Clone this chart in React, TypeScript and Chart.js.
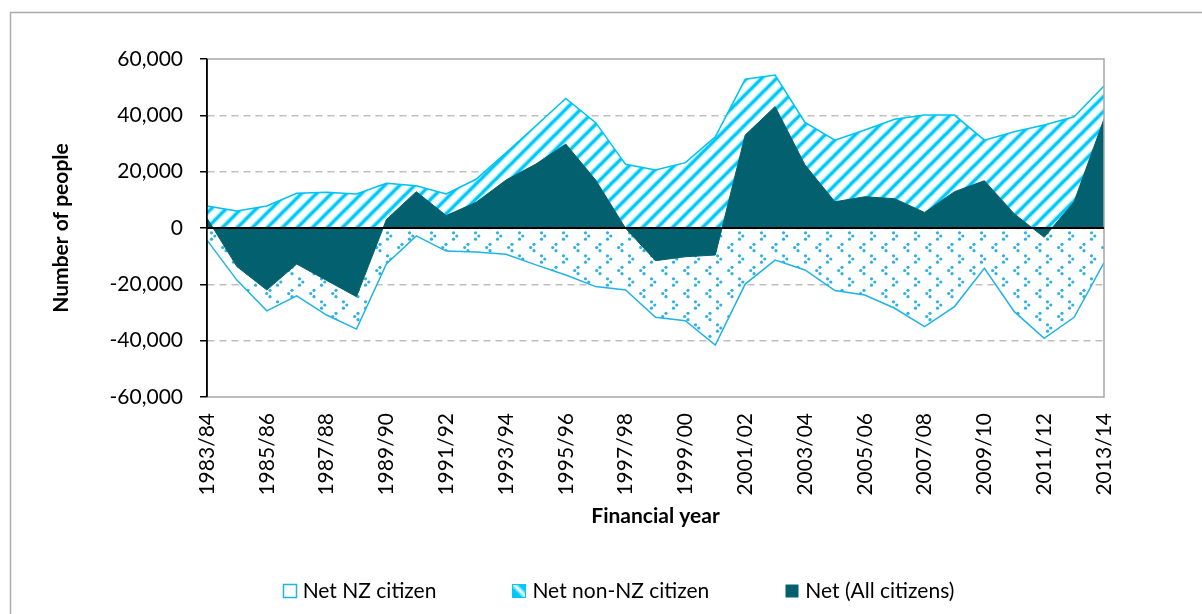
import React, { useEffect, useRef } from "react";
import { Chart, registerables } from "chart.js";

Chart.register(...registerables);

const FONT = "Lato";

const years = [
  "1983/84", "1984/85", "1985/86", "1986/87", "1987/88", "1988/89", "1989/90", "1990/91",
  "1991/92", "1992/93", "1993/94", "1994/95", "1995/96", "1996/97", "1997/98", "1998/99",
  "1999/00", "2000/01", "2001/02", "2002/03", "2003/04", "2004/05", "2005/06", "2006/07",
  "2007/08", "2008/09", "2009/10", "2010/11", "2011/12", "2012/13", "2013/14",
];

const netNZCitizen = [
  -4300, -18500, -29400, -24100, -30900, -35900, -12800, -2800, -8200, -8500,
  -9300, -13100, -16700, -20800, -22000, -31700, -32900, -41600, -19900, -11400,
  -14900, -22200, -23800, -28500, -35000, -27900, -14300, -29700, -39200, -31700,
  -12300,
];

const netNonNZCitizen = [
  7800, 6000, 7800, 12300, 12700, 12100, 15900, 15000, 12100, 17300,
  26700, 36300, 46000, 37400, 22600, 20600, 23200, 32400, 52800, 54300,
  37500, 31200, 34800, 38600, 40100, 40100, 31200, 34200, 36600, 39500,
  50400,
];

const netAllCitizens = [
  3500, -13700, -22000, -12800, -18600, -24400, 3000, 12900, 4400, 9100,
  17000, 22700, 29800, 17000, -100, -11600, -10200, -9600, 33000, 43100,
  22400, 9300, 11100, 10400, 5500, 12900, 16800, 5000, -3300, 9300,
  38700,
];

const seriesLabels = ["Net NZ citizen", "Net non-NZ citizen", "Net (All citizens)"];

const DARK = "#03616F";
const CYAN = "#00C8F8";
const NZ_LINE = "#1FB3E6";

function makeStripePattern(ctx: CanvasRenderingContext2D): CanvasPattern | string {
  const s = 15;
  const c = document.createElement("canvas");
  c.width = s;
  c.height = s;
  const g = c.getContext("2d");
  if (!g) return CYAN;
  g.fillStyle = "#ffffff";
  g.fillRect(0, 0, s, s);
  g.lineCap = "butt";
  for (const [col, w] of [["#B5F0FF", 5.5], [CYAN, 3]] as [string, number][]) {
    g.strokeStyle = col;
    g.lineWidth = w;
    for (const k of [-s, 0, s]) {
      g.beginPath();
      g.moveTo(k - 2, s + 2);
      g.lineTo(k + s + 2, -2);
      g.stroke();
    }
  }
  return ctx.createPattern(c, "repeat") || CYAN;
}

function makeDotPattern(ctx: CanvasRenderingContext2D): CanvasPattern | string {
  const w = 22;
  const h = 23;
  const c = document.createElement("canvas");
  c.width = w;
  c.height = h;
  const g = c.getContext("2d");
  if (!g) return "#fff";
  g.fillStyle = "#ffffff";
  g.fillRect(0, 0, w, h);
  g.fillStyle = "#2FB0E5";
  const dot = (x: number, y: number) => {
    g.beginPath();
    g.arc(x, y, 1.6, 0, Math.PI * 2);
    g.fill();
  };
  // ">" chevron
  dot(13.5, 2.8);
  dot(16.8, 6);
  dot(13.5, 9.2);
  // "<" chevron
  dot(6, 14.3);
  dot(2.7, 17.5);
  dot(6, 20.7);
  return ctx.createPattern(c, "repeat") || "#fff";
}

const framePlugin = {
  id: "frame",
  beforeDraw(chart: any) {
    const { ctx, width, height } = chart;
    ctx.save();
    ctx.fillStyle = "#ffffff";
    ctx.fillRect(0, 0, width, height);
    ctx.strokeStyle = "#ABABAB";
    ctx.lineWidth = 1.5;
    ctx.beginPath();
    ctx.moveTo(10.5, height + 2);
    ctx.lineTo(10.5, 12.5);
    ctx.lineTo(width + 2, 12.5);
    ctx.stroke();
    ctx.restore();
  },
  afterDatasetsDraw(chart: any) {
    const { ctx, chartArea, scales } = chart;
    const { left, right, top, bottom } = chartArea;
    ctx.save();
    ctx.strokeStyle = "#A6A6A6";
    ctx.lineWidth = 1.5;
    ctx.beginPath();
    ctx.moveTo(left, top);
    ctx.lineTo(right, top);
    ctx.lineTo(right, bottom);
    ctx.lineTo(left, bottom);
    ctx.stroke();
    const y0 = scales.y.getPixelForValue(0);
    ctx.strokeStyle = "#000000";
    ctx.lineWidth = 2;
    ctx.beginPath();
    ctx.moveTo(left, y0);
    ctx.lineTo(right, y0);
    ctx.stroke();
    ctx.lineWidth = 1.5;
    ctx.beginPath();
    ctx.moveTo(left, top);
    ctx.lineTo(left, bottom);
    ctx.stroke();
    ctx.restore();
  },
  afterDraw(chart: any) {
    const { ctx } = chart;
    const ds = chart.data.datasets;
    ctx.save();
    ctx.font = `21px ${FONT}`;
    ctx.textBaseline = "middle";
    ctx.textAlign = "left";
    const box = 13;
    const gapText = 7;
    const gapItem = 76;
    const widths = ds.map((d: any) => ctx.measureText(d.label).width);
    const total =
      widths.reduce((s: number, w: number) => s + box + gapText + w, 0) + gapItem * (ds.length - 1);
    let x = 618.5 - total / 2;
    const yc = 591;
    ds.forEach((d: any, i: number) => {
      const bx = Math.round(x) + 0.5;
      const by = yc - box / 2;
      if (i === 0) {
        ctx.fillStyle = "#ffffff";
        ctx.fillRect(bx, by, box, box);
        ctx.strokeStyle = NZ_LINE;
        ctx.lineWidth = 1.5;
        ctx.strokeRect(bx, by, box, box);
      } else if (i === 1) {
        const gr = ctx.createLinearGradient(bx, by + box, bx + box, by);
        gr.addColorStop(0, CYAN);
        gr.addColorStop(0.35, CYAN);
        gr.addColorStop(0.55, "#ffffff");
        gr.addColorStop(0.75, CYAN);
        gr.addColorStop(1, CYAN);
        ctx.fillStyle = gr;
        ctx.fillRect(bx, by, box, box);
        ctx.strokeStyle = CYAN;
        ctx.lineWidth = 1;
        ctx.strokeRect(bx, by, box, box);
      } else {
        ctx.fillStyle = DARK;
        ctx.fillRect(bx, by, box, box);
      }
      ctx.fillStyle = "#000000";
      ctx.fillText(d.label, x + box + gapText, yc);
      x += box + gapText + widths[i] + gapItem;
    });
    ctx.restore();
  },
};

export default function App() {
  const canvasRef = useRef<HTMLCanvasElement | null>(null);

  useEffect(() => {
    const canvas = canvasRef.current;
    if (!canvas) return;
    const ctx = canvas.getContext("2d");
    if (!ctx) return;
    const stripes = makeStripePattern(ctx);
    const dots = makeDotPattern(ctx);

    const chart = new Chart(canvas, {
      type: "line",
      data: {
        labels: years,
        datasets: [
          {
            label: seriesLabels[0],
            data: netNZCitizen,
            fill: "origin",
            backgroundColor: dots as any,
            borderColor: NZ_LINE,
            borderWidth: 1.5,
            pointRadius: 0,
            tension: 0,
            order: 1,
          },
          {
            label: seriesLabels[1],
            data: netNonNZCitizen,
            fill: "origin",
            backgroundColor: stripes as any,
            borderColor: "#00C2F2",
            borderWidth: 1.5,
            pointRadius: 0,
            tension: 0,
            order: 2,
          },
          {
            label: seriesLabels[2],
            data: netAllCitizens,
            fill: "origin",
            backgroundColor: DARK,
            borderColor: DARK,
            borderWidth: 1,
            pointRadius: 0,
            tension: 0,
            order: 0,
          },
        ],
      },
      options: {
        responsive: false,
        animation: false,
        layout: { padding: { left: 0, right: 98, top: 59, bottom: 77 } },
        plugins: {
          legend: { display: false },
          tooltip: { enabled: false },
        },
        scales: {
          x: {
            type: "category",
            grid: { display: false, drawTicks: false },
            border: { display: false },
            ticks: {
              autoSkip: false,
              minRotation: 90,
              maxRotation: 90,
              padding: 16,
              color: "#000000",
              font: { family: FONT, size: 21 },
              callback: (_v: any, i: number) => (i % 2 === 0 ? years[i] : ""),
            },
            title: {
              display: true,
              text: "Financial year",
              color: "#000000",
              font: { family: FONT, size: 21, weight: "bold" },
              padding: { top: 0, bottom: 8.4 },
            },
            afterFit: (s: any) => {
              s.height = 140;
            },
          },
          y: {
            min: -60000,
            max: 60000,
            ticks: {
              stepSize: 20000,
              padding: 17,
              color: "#000000",
              font: { family: FONT, size: 21 },
              callback: (v: any) => Number(v).toLocaleString("en-US"),
            },
            grid: {
              color: (c: any) => {
                const v = c.tick ? c.tick.value : 1;
                return v === 0 || Math.abs(v) === 60000 ? "rgba(0,0,0,0)" : "#BFBFBF";
              },
              lineWidth: 1.5,
              tickLength: 7,
              tickColor: "#000000",
              tickWidth: 1.5,
              tickBorderDash: [],
            },
            border: { display: true, color: "#000000", width: 1.5, dash: [7, 5] },
            title: {
              display: true,
              text: "Number of people",
              color: "#000000",
              font: { family: FONT, size: 21, weight: "bold" },
              padding: { top: 48.4, bottom: 0 },
            },
            afterFit: (s: any) => {
              s.width = 207;
            },
          },
        },
      } as any,
      plugins: [framePlugin as any],
    });

    return () => chart.destroy();
  }, []);

  return (
    <div style={{ position: "fixed", left: 0, top: 0, width: 1202, height: 614, background: "#fff" }}>
      <canvas ref={canvasRef} width={1202} height={614} style={{ display: "block" }} />
    </div>
  );
}
